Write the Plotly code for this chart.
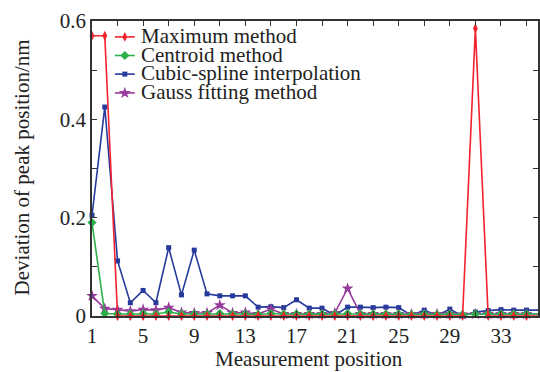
import plotly.graph_objects as go

# Measurement positions 1..36
positions = list(range(1, 37))

# Deviation of peak position (nm) for each method
maximum_method = [0.570, 0.570, 0.000, 0.000, 0.000, 0.000, 0.000, 0.000, 0.000, 0.000,
                  0.000, 0.000, 0.000, 0.000, 0.000, 0.000, 0.000, 0.000, 0.000, 0.000,
                  0.000, 0.000, 0.000, 0.000, 0.000, 0.000, 0.000, 0.000, 0.000, 0.000,
                  0.585, 0.000, 0.000, 0.000, 0.000, 0.000]
centroid_method = [0.190, 0.005, 0.004, 0.004, 0.005, 0.004, 0.008, 0.004, 0.004, 0.004,
                   0.005, 0.004, 0.004, 0.003, 0.005, 0.004, 0.004, 0.004, 0.004, 0.004,
                   0.005, 0.004, 0.004, 0.004, 0.004, 0.003, 0.004, 0.003, 0.004, 0.003,
                   0.004, 0.004, 0.004, 0.004, 0.004, 0.004]
cubic_spline = [0.205, 0.425, 0.112, 0.027, 0.052, 0.027, 0.139, 0.043, 0.134, 0.045,
                0.041, 0.041, 0.041, 0.018, 0.019, 0.017, 0.033, 0.016, 0.016, 0.001,
                0.018, 0.018, 0.017, 0.018, 0.017, 0.001, 0.012, 0.001, 0.014, 0.000,
                0.008, 0.011, 0.013, 0.012, 0.012, 0.012]
gauss_fitting = [0.041, 0.015, 0.013, 0.010, 0.013, 0.012, 0.017, 0.007, 0.006, 0.006,
                 0.022, 0.006, 0.007, 0.004, 0.014, 0.004, 0.004, 0.004, 0.004, 0.006,
                 0.056, 0.004, 0.004, 0.004, 0.004, 0.004, 0.004, 0.004, 0.004, 0.003,
                 0.004, 0.004, 0.004, 0.004, 0.004, 0.004]

series_names = ["Maximum method", "Centroid method",
                "Cubic-spline interpolation", "Gauss fitting method"]
series_values = [maximum_method, centroid_method, cubic_spline, gauss_fitting]
series_colors = ["#f3222e", "#2cb04a", "#263a9c", "#963a9c"]
series_symbols = ["diamond-tall", "diamond", "square", "star"]
series_sizes = [7, 7, 5, 9]

y_tick_vals = [0, 0.1, 0.2, 0.3, 0.4, 0.5, 0.6]
y_tick_text = ["0", "", "0.2", "", "0.4", "", "0.6"]
x_tick_vals = list(range(1, 37, 2))
x_tick_text = [str(v) if (v - 1) % 4 == 0 else "" for v in x_tick_vals]

FONT = "Liberation Serif"
AXIS_COLOR = "#333333"

fig = go.Figure()

# Draw order: spline, gauss, centroid, maximum on top
for i in [2, 3, 1, 0]:
    fig.add_trace(go.Scatter(
        x=positions, y=series_values[i], mode="lines+markers",
        name=series_names[i], showlegend=False, cliponaxis=False,
        line=dict(color=series_colors[i], width=1.6),
        marker=dict(symbol=series_symbols[i], size=series_sizes[i],
                    color=series_colors[i], line=dict(width=0)),
    ))

# Hand-built legend on an overlay axis spanning the plot area in [0, 1]
legend_rows = [0.946, 0.883, 0.820, 0.756]
for i, yrow in enumerate(legend_rows):
    fig.add_trace(go.Scatter(
        x=[0.0513, 0.0736, 0.0959], y=[yrow] * 3, mode="lines",
        line=dict(color=series_colors[i], width=1.6),
        xaxis="x2", yaxis="y2", showlegend=False, hoverinfo="skip",
    ))
    fig.add_trace(go.Scatter(
        x=[0.0736], y=[yrow], mode="markers",
        marker=dict(symbol=series_symbols[i], size=series_sizes[i],
                    color=series_colors[i], line=dict(width=0)),
        xaxis="x2", yaxis="y2", showlegend=False, hoverinfo="skip",
    ))
    fig.add_annotation(
        x=0.1048, y=yrow, xref="x2", yref="y2", text=series_names[i],
        showarrow=False, xanchor="left", yanchor="middle", yshift=1,
        font=dict(family=FONT, size=21, color="#222222"),
    )

# Axis titles
fig.add_annotation(
    x=0.486, y=-0.146, xref="paper", yref="paper", text="Measurement position",
    showarrow=False, xanchor="center", yanchor="middle",
    font=dict(family=FONT, size=21, color="#222222"),
)
fig.add_annotation(
    x=-0.158, y=0.502, xref="paper", yref="paper",
    text="Deviation of peak position/nm", textangle=-90,
    showarrow=False, xanchor="center", yanchor="middle",
    font=dict(family=FONT, size=21, color="#222222"),
)

fig.update_layout(
    width=540, height=372,
    margin=dict(l=92, r=0, t=21, b=56, pad=0),
    paper_bgcolor="white", plot_bgcolor="white",
    font=dict(family=FONT, size=21, color="#222222"),
    xaxis=dict(
        range=[1, 35.9], tickmode="array", tickvals=x_tick_vals,
        ticktext=x_tick_text, ticks="inside", ticklen=5, tickwidth=1.3,
        tickcolor=AXIS_COLOR, showline=True, linecolor=AXIS_COLOR,
        linewidth=1.6, mirror="ticks", showgrid=False, zeroline=False,
        tickfont=dict(family=FONT, size=21, color="#222222"),
    ),
    yaxis=dict(
        range=[0, 0.6], tickmode="array", tickvals=y_tick_vals,
        ticktext=y_tick_text, ticks="inside", ticklen=5, tickwidth=1.3,
        tickcolor=AXIS_COLOR, showline=True, linecolor=AXIS_COLOR,
        linewidth=1.6, mirror="ticks", showgrid=False, zeroline=False,
        tickfont=dict(family=FONT, size=21, color="#222222"),
    ),
    xaxis2=dict(range=[0, 1], overlaying="x", visible=False, fixedrange=True),
    yaxis2=dict(range=[0, 1], overlaying="y", visible=False, fixedrange=True),
)

fig.write_html("out.html")
